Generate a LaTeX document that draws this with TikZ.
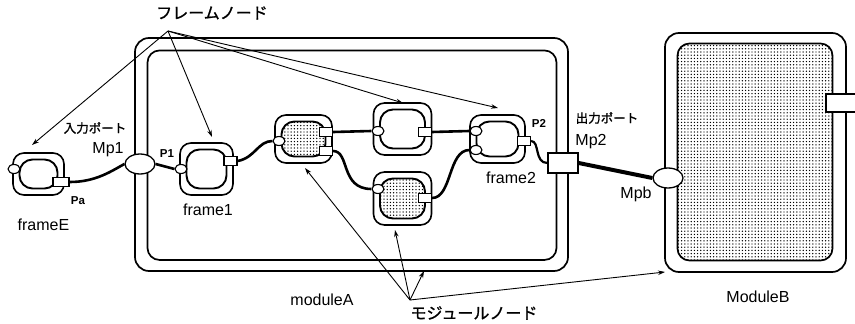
\documentclass[tikz,border=0pt]{standalone}
\usepackage{fontspec}
\setmainfont{Liberation Sans}
\newfontfamily\jp[FakeBold=1.2]{Noto Sans CJK JP}
\usetikzlibrary{patterns,arrows.meta,shapes.geometric}
\pgfdeclarelayer{bg}
\pgfsetlayers{bg,main}
\pgfdeclarepatternformonly{bigdots}{\pgfqpoint{-1pt}{-1pt}}{\pgfqpoint{1pt}{1pt}}{\pgfqpoint{3.2pt}{3.2pt}}{\pgfpathcircle{\pgfqpoint{0pt}{0pt}}{0.72pt}\pgfusepath{fill}}
\begin{document}
\begin{tikzpicture}[x=1pt,y=-1pt,
  modout/.style={draw, line width=1.7pt, rounded corners=14pt, inner sep=0pt},
  modin/.style={draw, line width=1.7pt, rounded corners=12pt, inner sep=0pt},
  fout/.style={draw, line width=1.6pt, rounded corners=11pt, fill=white, inner sep=0pt},
  fin/.style={draw, line width=1.9pt, rounded corners=13pt, inner sep=0pt},
  dotsfill/.style={pattern=bigdots},
  cport/.style={draw, ellipse, line width=1.1pt, fill=white, minimum width=12pt, minimum height=9pt, inner sep=0pt},
  sport/.style={draw, rectangle, line width=1.1pt, fill=white, minimum width=13pt, minimum height=9.5pt, inner sep=0pt},
  mport/.style={draw, ellipse, line width=1.3pt, fill=white, minimum width=30pt, minimum height=20pt, inner sep=0pt},
  mbox/.style={draw, rectangle, line width=1.3pt, fill=white, minimum width=30pt, minimum height=20pt, inner sep=0pt},
  conn/.style={line width=2.6pt},
  ann/.style={line width=0.9pt, -{Stealth[length=7pt,width=4.5pt]}},
  lbl/.style={font=\fontsize{16}{18}\selectfont, inner sep=0pt},
  plbl/.style={font=\bfseries\fontsize{11.5}{13}\selectfont, inner sep=0pt},
  jlbl/.style={font=\jp\fontsize{12.5}{14}\selectfont, inner sep=0pt},
  jbig/.style={font=\jp\fontsize{16}{18}\selectfont, inner sep=0pt},
]
\useasboundingbox (0,0) rectangle (855,324);

% moduleA
\node[modout, minimum width=433pt, minimum height=233pt] (mAo) at (351.5,154.5) {};
\node[modin, minimum width=409pt, minimum height=209.5pt] (mAi) at (352,155.2) {};
% moduleB
\node[modout, minimum width=181pt, minimum height=239pt] (mBo) at (755.5,152.5) {};
\node[modin, dotsfill, minimum width=155pt, minimum height=217pt] (mBi) at (755,152) {};
\draw[line width=1.3pt, fill=white] (856,94) -- (826,94) -- (826,112) -- (856,112);

% frame and module nodes
\node[fout, minimum width=51pt, minimum height=42pt] (fE) at (38.5,174) {};
\node[fin, minimum width=38pt, minimum height=29pt] (fEi) at (fE) {};
\node[fout, minimum width=53pt, minimum height=52pt] (f1) at (206.5,169) {};
\node[fin, minimum width=40pt, minimum height=39pt] (f1i) at (f1) {};
\node[fout, minimum width=57pt, minimum height=48pt] (m1) at (303.5,139) {};
\node[fin, dotsfill, minimum width=44pt, minimum height=35pt] (m1i) at (m1) {};
\node[fout, minimum width=58pt, minimum height=52pt] (fm) at (402.5,129) {};
\node[fin, minimum width=45pt, minimum height=39pt] (fmi) at (fm) {};
\node[fout, minimum width=58pt, minimum height=53pt] (m2) at (402.5,198.5) {};
\node[fin, dotsfill, minimum width=45pt, minimum height=40pt] (m2i) at (m2) {};
\node[fout, minimum width=55pt, minimum height=48pt] (f2) at (497.5,139) {};
\node[fin, minimum width=42pt, minimum height=35pt] (f2i) at (f2) {};

% ports
\node[cport] (pEc) at (14,169) {};
\node[sport, minimum width=16pt] (pEs) at (61,182) {};
\node[cport] (p1c) at (181,169) {};
\node[sport] (p1s) at (230.5,161) {};
\node[cport] (m1c) at (279,141) {};
\node[sport] (m1s1) at (326,132) {};
\node[sport] (m1s2) at (326,151) {};
\node[cport] (fmc) at (378,131) {};
\node[sport] (fms) at (425,132) {};
\node[cport] (m2c) at (378,189) {};
\node[sport] (m2s) at (425,198) {};
\node[cport] (f2c1) at (476,131) {};
\node[cport] (f2c2) at (476,150) {};
\node[sport] (f2s) at (524,141) {};
\node[mport] (Mp1) at (140,164) {};
\node[mbox] (Mp2) at (563,163) {};
\node[mport] (Mpb) at (668,178) {};

% connectors
\begin{pgfonlayer}{bg}
\draw[conn] (pEs.east) .. controls (95,182) and (110,172) .. (Mp1.west);
\draw[conn] (Mp1.east) -- (p1c.west);
\draw[conn] (p1s.east) .. controls (255,158) and (258,141) .. (m1c.west);
\draw[conn] (m1s1.east) -- (fmc.west);
\draw[conn] (m1s2.east) .. controls (350,151) and (340,189) .. (m2c.west);
\draw[conn] (fms.east) -- (f2c1.west);
\draw[conn] (m2s.east) .. controls (452,198) and (448,150) .. (f2c2.west);
\draw[conn, line width=2.2pt] (f2s.east) .. controls (540,141) and (534,163) .. (Mp2.west);
\draw[conn, line width=4pt] (Mp2.east) -- (Mpb.west);
\draw[line width=0.9pt] ([xshift=-2pt]m1s1.south) -- ([xshift=-2pt]m1s2.north);
\draw[line width=0.9pt] ([xshift=2pt]m1s1.south) -- ([xshift=2pt]m1s2.north);
\draw[line width=0.9pt] ([xshift=-2pt]f2c1.south) -- ([xshift=-2pt]f2c2.north);
\draw[line width=0.9pt] ([xshift=2pt]f2c1.south) -- ([xshift=2pt]f2c2.north);
\end{pgfonlayer}

% annotations
\coordinate (apT) at (168,31);
\coordinate (apB) at (410,300);
\coordinate (aE) at (32,145);
\coordinate (a1) at (212,137);
\coordinate (aM) at (403,103);
\coordinate (a2) at (498,108);
\coordinate (bm1) at (305,168);
\coordinate (bm2) at (395,230);
\coordinate (bmA) at (424,271);
\coordinate (bmB) at (665,272);
\draw[ann] (apT) -- (aE);
\draw[ann] (apT) -- (a1);
\draw[ann] (apT) -- (aM);
\draw[ann] (apT) -- (a2);
\draw[ann] (apB) -- (bm1);
\draw[ann] (apB) -- (bm2);
\draw[ann] (apB) -- (bmA);
\draw[ann] (apB) -- (bmB);

% labels
\node[jbig] (tFr) at (212,13) {フレームノード};
\node[jlbl] (tIn) at (95,128) {入力ポート};
\node[jlbl] (tOut) at (607,118) {出力ポート};
\node[jbig] (tMod) at (474,313) {モジュールノード};
\node[lbl] (tMp1) at (108,150) {Mp1};
\node[plbl] (tP1) at (167,154) {P1};
\node[plbl] (tPa) at (78,201) {Pa};
\node[lbl] (tfE) at (43.5,225) {frameE};
\node[lbl] (tf1) at (208,210) {frame1};
\node[lbl] (tf2) at (511,178) {frame2};
\node[lbl] (tmA) at (322,300) {moduleA};
\node[lbl] (tmB) at (758,297) {ModuleB};
\node[lbl] (tMp2) at (591,142) {Mp2};
\node[lbl] (tMpb) at (636,194) {Mpb};
\node[plbl] (tP2) at (539,123) {P2};
\end{tikzpicture}
\end{document}
